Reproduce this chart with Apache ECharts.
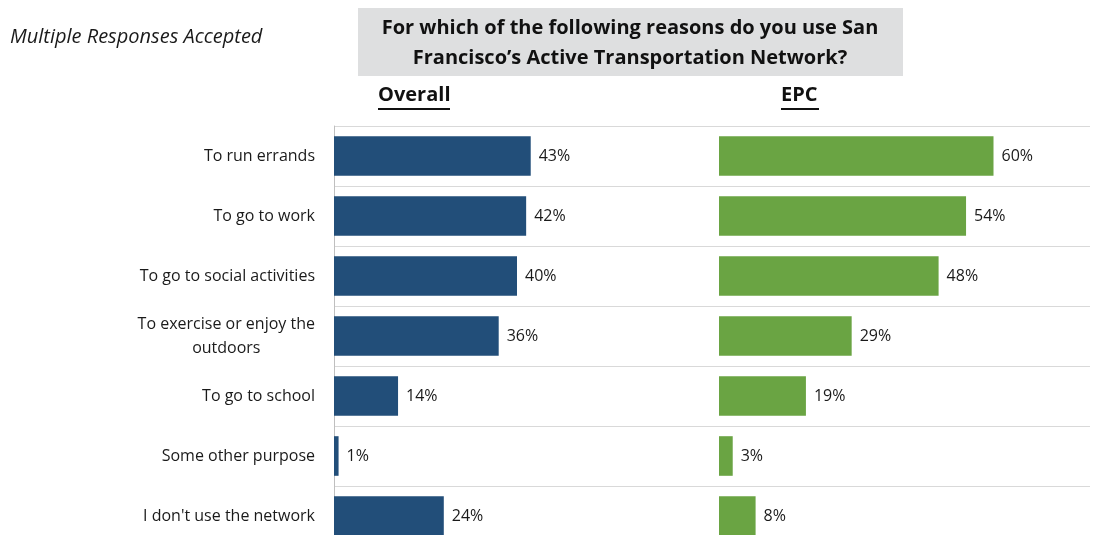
<!DOCTYPE html>
<html>
<head>
<meta charset="utf-8">
<script src="https://cdn.jsdelivr.net/npm/echarts@6/dist/echarts.min.js"></script>
<style>html,body{margin:0;padding:0;background:#fff}#c{width:1093px;height:535px}</style>
</head>
<body>
<div id="c"></div>
<script>
var categories = ['To run errands', 'To go to work', 'To go to social activities', 'To exercise or enjoy the\noutdoors', 'To go to school', 'Some other purpose', "I don't use the network"];
var overallValues = [43, 42, 40, 36, 14, 1, 24];
var epcValues = [60, 54, 48, 29, 19, 3, 8];
var panelTitles = ['Overall', 'EPC'];

var FONT = '"Open Sans", sans-serif';
var chart = echarts.init(document.getElementById('c'));

function catAxis(gridIndex, showLabels, showLine, showSplit) {
  return {
    type: 'category', gridIndex: gridIndex, data: categories, inverse: true,
    axisTick: {show: false},
    axisLine: {show: showLine, lineStyle: {color: '#bfbfbf', width: 1}},
    splitLine: {show: showSplit, lineStyle: {color: '#d9d9d9', width: 1}},
    axisLabel: {
      show: showLabels, margin: 19, align: 'right', color: '#1a1a1a',
      fontFamily: FONT, fontSize: 16, lineHeight: 24,
      formatter: function (v) {
        return v.split('\n').map(function (s) { return '{c|' + s + '}'; }).join('\n');
      },
      rich: {c: {align: 'center', fontFamily: FONT, fontSize: 16, lineHeight: 24, color: '#1a1a1a'}}
    }
  };
}
function valAxis(gridIndex) {
  return {type: 'value', gridIndex: gridIndex, min: 0, max: 80, show: false, splitLine: {show: false}};
}
function barLabel() {
  return {show: true, position: 'right', distance: 8, formatter: '{c}%', color: '#1a1a1a', fontFamily: FONT, fontSize: 16};
}

chart.setOption({
  animation: false,
  title: {
    text: 'For which of the following reasons do you use San\nFrancisco\u2019s Active Transportation Network?',
    left: 630, top: 13, padding: 0, textAlign: 'center',
    textStyle: {fontFamily: FONT, fontSize: 20, fontWeight: 'bold', color: '#111', lineHeight: 30}
  },
  graphic: [
    {type: 'rect', z: -1, shape: {x: 358, y: 8, width: 545, height: 68}, style: {fill: '#dedfe0'}},
    {type: 'text', left: 10, top: 27, style: {text: 'Multiple Responses Accepted', font: 'italic 20px "Open Sans", sans-serif', fill: '#1a1a1a'}},
    {type: 'text', left: 378, top: 85, style: {text: panelTitles[0], font: 'bold 20px "Open Sans", sans-serif', fill: '#111'}},
    {type: 'rect', shape: {x: 378, y: 108, width: 72, height: 2}, style: {fill: '#111'}},
    {type: 'text', left: 781, top: 85, style: {text: panelTitles[1], font: 'bold 20px "Open Sans", sans-serif', fill: '#111'}},
    {type: 'rect', shape: {x: 781, y: 108, width: 38, height: 2}, style: {fill: '#111'}}
  ],
  grid: [
    {left: 334, top: 126, width: 756, height: 420, outerBoundsMode: 'none', containLabel: false},
    {left: 334, top: 126, width: 366, height: 420, outerBoundsMode: 'none', containLabel: false},
    {left: 719, top: 126, width: 366, height: 420, outerBoundsMode: 'none', containLabel: false}
  ],
  xAxis: [valAxis(0), valAxis(1), valAxis(2)],
  yAxis: [catAxis(0, false, false, true), catAxis(1, true, true, false), catAxis(2, false, false, false)],
  series: [
    {type: 'bar', xAxisIndex: 1, yAxisIndex: 1, data: overallValues, barCategoryGap: '34%',
     itemStyle: {color: '#224e79'}, label: barLabel()},
    {type: 'bar', xAxisIndex: 2, yAxisIndex: 2, data: epcValues, barCategoryGap: '34%',
     itemStyle: {color: '#6aa443'}, label: barLabel()}
  ]
});
</script>
</body>
</html>
